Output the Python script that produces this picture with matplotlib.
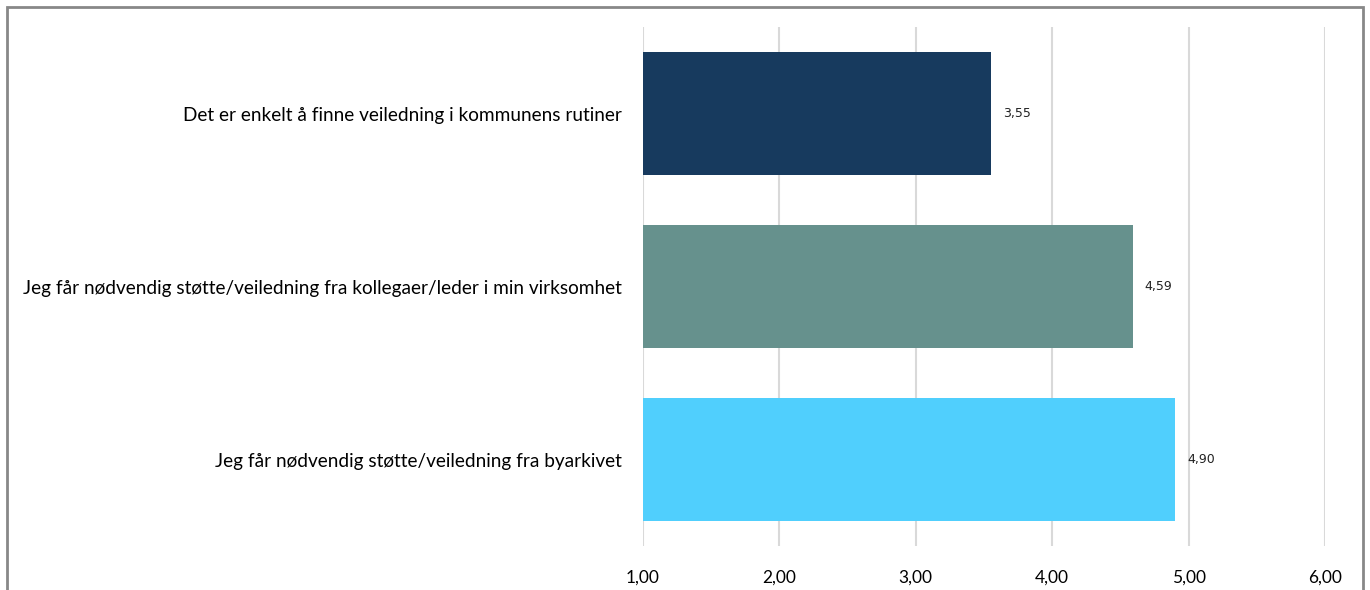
import matplotlib
matplotlib.use("Agg")
import matplotlib.pyplot as plt
from matplotlib.patches import Rectangle

categories = [
    "Det er enkelt å finne veiledning i kommunens rutiner",
    "Jeg får nødvendig støtte/veiledning fra kollegaer/leder i min virksomhet",
    "Jeg får nødvendig støtte/veiledning fra byarkivet",
]
values = [3.55, 4.59, 4.90]
colors = ["#173A5E", "#66918D", "#50CFFD"]
x_ticks = [1, 2, 3, 4, 5, 6]
x_tick_labels = ["1,00", "2,00", "3,00", "4,00", "5,00", "6,00"]

plt.rcParams["font.family"] = ["Lato", "DejaVu Sans"]

W, H = 1370, 590
fig = plt.figure(figsize=(W / 100, H / 100), dpi=100)
ax = fig.add_axes([643 / W, (H - 546) / H, (1325 - 643) / W, (546 - 27) / H])

base = 1.0
ypos = list(range(len(categories)))
ax.barh(ypos, [v - base for v in values], left=base, height=0.71,
        color=colors, zorder=3)

for y, v in zip(ypos, values):
    ax.annotate(f"{v:.2f}".replace(".", ","), xy=(v, y), xytext=(12, 0),
                textcoords="offset pixels", va="center", ha="left",
                fontsize=9, color="#222222", family="DejaVu Sans")

ax.set_xlim(1, 6)
ax.set_ylim(len(categories) - 0.5, -0.5)
ax.set_xticks(x_ticks)
ax.set_xticklabels(x_tick_labels, fontsize=12.5)
ax.set_yticks(ypos)
ax.set_yticklabels(categories, fontsize=13.7)
ax.tick_params(axis="x", length=0, pad=17)
ax.tick_params(axis="y", length=0, pad=15)
ax.grid(axis="x", color="#D9D9D9", linewidth=1.5, zorder=0)
for s in ax.spines.values():
    s.set_visible(False)

# outer frame, open at the bottom edge of the image
fig.patches.append(Rectangle((7 / W, -0.05), (1363 - 7) / W, (H - 7) / H + 0.05,
                             transform=fig.transFigure, fill=False,
                             edgecolor="#888888", linewidth=2))

fig.savefig("out.png", dpi=100)
